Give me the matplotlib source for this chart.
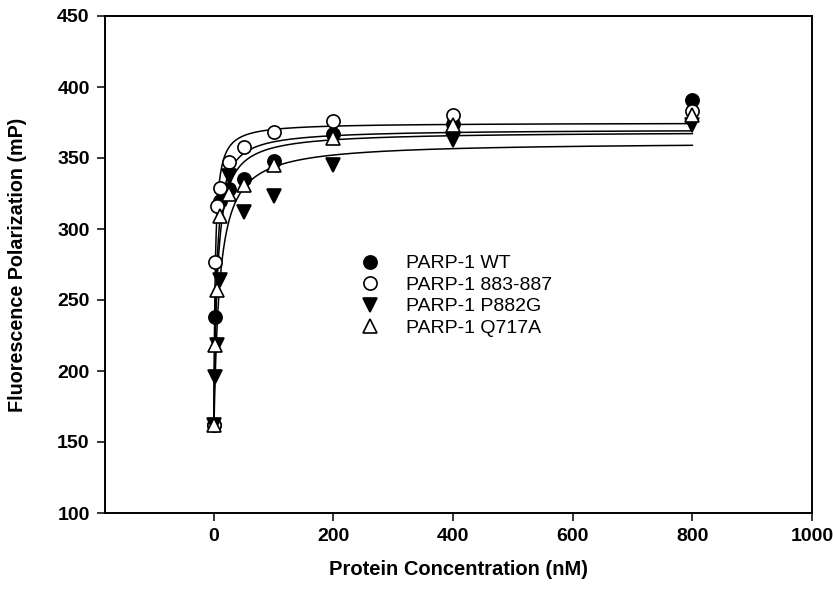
import numpy as np
import matplotlib
matplotlib.use('Agg')
import matplotlib.pyplot as plt

plt.rcParams['font.family'] = ['Liberation Sans', 'DejaVu Sans']

#%% data

conc = np.array([0, 2.5, 5, 10, 25, 50, 100, 200, 400, 800])  # nM

wt    = np.array([162, 238, np.nan, 320, 328, 335, 348, 367, 374, 391])
d883  = np.array([162, 277, 316, 329, 347, 358, 368, 376, 380, 383])
p882g = np.array([162, 196, 218, 264, 337, 312, 323, 345, 363, 373])
q717a = np.array([162, 218, 257, 309, 325, 331, 345, 364, 373, 380])

labels = ['PARP-1 WT', 'PARP-1 883-887', 'PARP-1 P882G', 'PARP-1 Q717A']
markers = ['o', 'o', 'v', '^']
faces = ['black', 'white', 'black', 'white']


#%% one-site binding fit  y = y0 + Bmax*x/(Kd+x)

def fit_binding(x, y):
    ok = ~np.isnan(y)
    x, y = x[ok], y[ok]
    best = None
    for kd in np.logspace(-1, 3, 3000):
        A = np.column_stack([np.ones_like(x), x / (kd + x)])
        coef = np.linalg.lstsq(A, y, rcond=None)[0]
        sse = np.sum((A @ coef - y) ** 2)
        if best is None or sse < best[0]:
            best = (sse, coef[0], coef[1], kd)
    return best[1:]


#%% plot

fig = plt.figure(figsize=(8.33, 5.92), dpi=100)
ax = fig.add_axes([105/833, 79/592, 707/833, 497/592])

xfit = np.linspace(0, 800, 3000)
for y, m, fc, lab in zip([wt, d883, p882g, q717a], markers, faces, labels):
    y0, bmax, kd = fit_binding(conc, y)
    ax.plot(xfit, y0 + bmax * xfit / (kd + xfit), '-', color='black', lw=1.1, zorder=2)
    ax.plot(conc, y, linestyle='none', marker=m, ms=9.5, mfc=fc, mec='black',
            mew=1.2, label=lab, zorder=3)

ax.set_xlim(-182, 1000)
ax.set_ylim(100, 450)
ax.set_xticks([0, 200, 400, 600, 800, 1000])
ax.set_yticks([100, 150, 200, 250, 300, 350, 400, 450])
ax.tick_params(direction='out', length=6, width=1.1, labelsize=14, pad=5)
for lab in ax.get_xticklabels() + ax.get_yticklabels():
    lab.set_fontweight('bold')
for s in ax.spines.values():
    s.set_linewidth(1.4)

ax.set_xlabel('Protein Concentration (nM)', fontsize=14.5, fontweight='bold')
ax.set_ylabel('Fluorescence Polarization (mP)', fontsize=14.2, fontweight='bold')
ax.xaxis.set_label_coords(0.5, -0.095)
ax.yaxis.set_label_coords(-0.11, 0.5)

ax.legend(loc='upper left', bbox_to_anchor=(0.348, 0.535), frameon=False,
          fontsize=14, handlelength=1.2, handletextpad=1.25, labelspacing=0.2,
          borderaxespad=0)

fig.savefig('out.png', dpi=100)
plt.close()
